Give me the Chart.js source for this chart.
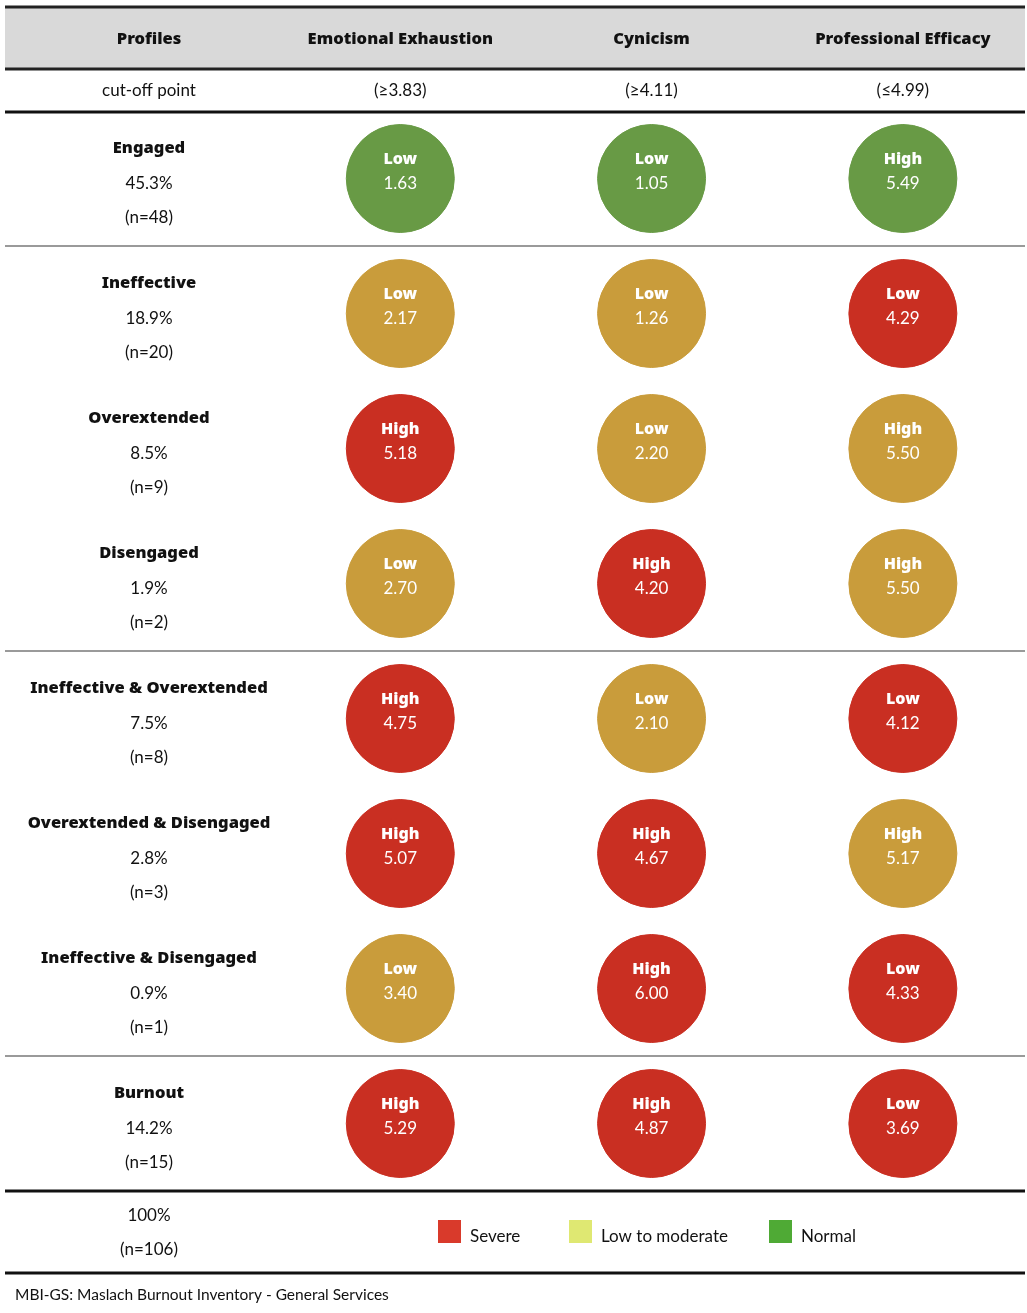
<!DOCTYPE html>
<html>
<head>
<meta charset="utf-8">
<title>MBI-GS burnout profiles</title>
<script src="https://cdn.jsdelivr.net/npm/chart.js@4.4.1/dist/chart.umd.min.js"></script>
<style>
  html, body { margin: 0; padding: 0; background: #fff; }
  #wrap { width: 1027px; height: 1313px; position: relative; }
</style>
</head>
<body>
<div id="wrap"><canvas id="profilesChart"></canvas></div>
<script>
const profiles = ['Engaged', 'Ineffective', 'Overextended', 'Disengaged',
  'Ineffective & Overextended', 'Overextended & Disengaged', 'Ineffective & Disengaged', 'Burnout'];
const shares = ['45.3%', '18.9%', '8.5%', '1.9%', '7.5%', '2.8%', '0.9%', '14.2%'];
const counts = [48, 20, 9, 2, 8, 3, 1, 15];
const dimensions = ['Emotional Exhaustion', 'Cynicism', 'Professional Efficacy'];
const cutoffs = ['(≥3.83)', '(≥4.11)', '(≤4.99)'];

const exhaustion = [1.63, 2.17, 5.18, 2.70, 4.75, 5.07, 3.40, 5.29];
const cynicism = [1.05, 1.26, 2.20, 4.20, 2.10, 4.67, 6.00, 4.87];
const efficacy = [5.49, 4.29, 5.50, 5.50, 4.12, 5.17, 4.33, 3.69];

const exhaustionLevel = ['Low', 'Low', 'High', 'Low', 'High', 'High', 'Low', 'High'];
const cynicismLevel = ['Low', 'Low', 'Low', 'High', 'Low', 'High', 'High', 'High'];
const efficacyLevel = ['High', 'Low', 'High', 'High', 'Low', 'High', 'Low', 'Low'];

// severity of each cell: normal / mild / severe
const exhaustionStatus = ['normal', 'mild', 'severe', 'mild', 'severe', 'severe', 'mild', 'severe'];
const cynicismStatus = ['normal', 'mild', 'mild', 'severe', 'mild', 'severe', 'severe', 'severe'];
const efficacyStatus = ['normal', 'severe', 'mild', 'mild', 'severe', 'mild', 'severe', 'severe'];

const groupStarts = [1, 4, 7]; // rows where a new block of profiles begins
const totalShare = '100%';
const totalCount = 106;
const legendLabels = ['Severe', 'Low to moderate', 'Normal'];
const footnote = 'MBI-GS: Maslach Burnout Inventory - General Services';

// colours
const statusColors = { normal: '#689a45', mild: '#c99c3b', severe: '#c92f22' };
const legendColors = ['#d93a2b', '#dfe872', '#4faa35'];
const FONT = 'Lato, "Noto Sans", sans-serif';
const BOLD = '"Noto Sans", "Open Sans", sans-serif';

const values = [exhaustion, cynicism, efficacy];
const levels = [exhaustionLevel, cynicismLevel, efficacyLevel];
const statuses = [exhaustionStatus, cynicismStatus, efficacyStatus];

const datasets = dimensions.map((dim, d) => ({
  label: dim,
  data: profiles.map((p, i) => ({ x: d + 1, y: p })),
  backgroundColor: statuses[d].map(s => statusColors[s]),
  borderColor: statuses[d].map(s => statusColors[s]),
  borderWidth: 1,
  pointRadius: 54,
  pointHoverRadius: 54
}));

function hline(ctx, x1, x2, y, color, width) {
  ctx.save();
  ctx.strokeStyle = color;
  ctx.lineWidth = width;
  ctx.beginPath();
  ctx.moveTo(x1, y);
  ctx.lineTo(x2, y);
  ctx.stroke();
  ctx.restore();
}

function text(ctx, str, x, y, font, color, align) {
  ctx.font = font;
  ctx.fillStyle = color;
  ctx.textAlign = align || 'center';
  ctx.textBaseline = 'middle';
  ctx.fillText(str, x, y);
}

// table frame: header band, rules and all the text cells
const tableFrame = {
  id: 'tableFrame',
  beforeDatasetsDraw(chart) {
    const { ctx, chartArea: a, scales: { y } } = chart;
    const L = 5, R = 1025;
    ctx.save();
    ctx.fillStyle = '#d9d9d9';
    ctx.fillRect(L, a.top - 103, R - L, 61);
    ctx.restore();
    hline(ctx, L, R, a.top - 104, '#222', 3);
    hline(ctx, L, R, a.top - 42, '#222', 3);
    hline(ctx, L, R, a.top + 1, '#111', 3);
    groupStarts.forEach(g => {
      hline(ctx, L, R, y.getPixelForValue(g - 0.5), '#9a9a9a', 2);
    });
    hline(ctx, L, R, a.bottom, '#111', 3);
    hline(ctx, L, R, a.bottom + 82, '#111', 3);
  },
  afterDatasetsDraw(chart) {
    const { ctx, chartArea: a, scales: { x, y } } = chart;
    const col0 = x.getPixelForValue(0);

    // header row
    text(ctx, 'Profiles', col0, a.top - 72, '900 16.5px ' + BOLD, '#111');
    dimensions.forEach((dim, d) => {
      text(ctx, dim, x.getPixelForValue(d + 1), a.top - 72, '900 16.5px ' + BOLD, '#111');
    });
    // cut-off row
    text(ctx, 'cut-off point', col0, a.top - 20, '17px ' + FONT, '#111');
    cutoffs.forEach((c, d) => {
      text(ctx, c, x.getPixelForValue(d + 1), a.top - 20, '17px ' + FONT, '#111');
    });

    // profile labels
    profiles.forEach((p, i) => {
      const cy = y.getPixelForValue(i);
      text(ctx, p, col0, cy - 30, '900 16.5px ' + BOLD, '#111');
      text(ctx, shares[i], col0, cy + 5, '17px ' + FONT, '#111');
      text(ctx, '(n=' + counts[i] + ')', col0, cy + 39, '17px ' + FONT, '#111');
    });

    // labels inside the circles
    chart.data.datasets.forEach((ds, d) => {
      chart.getDatasetMeta(d).data.forEach((pt, i) => {
        text(ctx, levels[d][i], pt.x, pt.y - 19, '900 16px ' + BOLD, '#fff');
        text(ctx, values[d][i].toFixed(2), pt.x, pt.y + 5, '17px ' + FONT, '#fff');
      });
    });

    // total row
    text(ctx, totalShare, col0, a.bottom + 25, '17px ' + FONT, '#111');
    text(ctx, '(n=' + totalCount + ')', col0, a.bottom + 59, '17px ' + FONT, '#111');

    // colour legend
    const legendX = [438, 569, 769];
    legendLabels.forEach((lab, k) => {
      ctx.save();
      ctx.fillStyle = legendColors[k];
      ctx.fillRect(legendX[k], a.bottom + 29, 23, 23);
      ctx.restore();
      text(ctx, lab, legendX[k] + 32, a.bottom + 46, '17px ' + FONT, '#111', 'left');
    });

    // footnote
    text(ctx, footnote, 15, a.bottom + 104, '15.5px ' + FONT, '#111', 'left');
  }
};

const chart = new Chart(document.getElementById('profilesChart'), {
  type: 'scatter',
  data: { datasets: datasets },
  options: {
    responsive: true,
    maintainAspectRatio: false,
    animation: false,
    layout: { autoPadding: false, padding: { top: 111, bottom: 122, left: 5, right: 2 } },
    scales: {
      x: { type: 'linear', min: -0.573, max: 3.486, display: false },
      y: { type: 'category', labels: profiles, offset: true, display: false }
    },
    plugins: {
      legend: { display: false },
      tooltip: { enabled: false }
    }
  },
  plugins: [tableFrame]
});
</script>
</body>
</html>
